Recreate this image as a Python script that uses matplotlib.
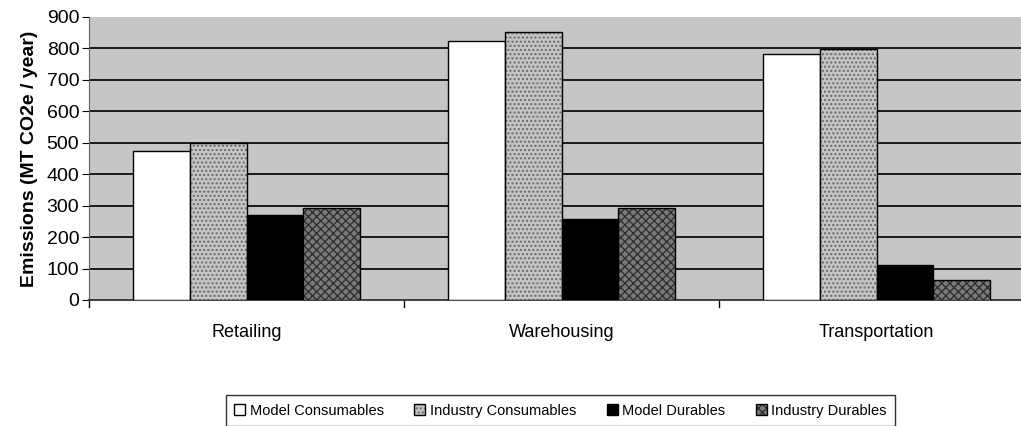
import matplotlib
matplotlib.use("Agg")
import matplotlib.pyplot as plt
import numpy as np

plt.rcParams['font.family'] = ['Liberation Sans', 'DejaVu Sans']
plt.rcParams['hatch.linewidth'] = 1.0

categories = ["Retailing", "Warehousing", "Transportation"]
series_names = ["Model Consumables", "Industry Consumables", "Model Durables", "Industry Durables"]
model_consumables = [474, 824, 782]
industry_consumables = [499, 852, 798]
model_durables = [270, 258, 111]
industry_durables = [293, 293, 64]
yticks = [0, 100, 200, 300, 400, 500, 600, 700, 800, 900]

series = [model_consumables, industry_consumables, model_durables, industry_durables]
styles = [
    dict(color="white", hatch=None, hatch_color="black"),
    dict(color="#c4c4c4", hatch="....", hatch_color="#6a6a6a"),
    dict(color="black", hatch=None, hatch_color="black"),
    dict(color="#7a7a7a", hatch="xxxx", hatch_color="#303030"),
]

fig = plt.figure(figsize=(10.21, 4.26), dpi=100)
ax = fig.add_axes([0.0872, 0.2958, 0.9256, 0.6643])
ax.set_facecolor("#c6c6c6")

x = np.arange(len(categories))
w = 0.18
for i, (vals, st) in enumerate(zip(series, styles)):
    pos = x + (i - 1.5) * w
    bars = ax.bar(pos, vals, width=w, color=st["color"], edgecolor="black",
                  linewidth=1.0, label=series_names[i], zorder=3)
    if st["hatch"]:
        for b in bars:
            b.set_hatch(st["hatch"])
            b._hatch_color = matplotlib.colors.to_rgba(st["hatch_color"])

ax.set_xlim(-0.5, 2.5)
ax.set_ylim(0, 900)
ax.set_yticks(yticks)
ax.set_yticklabels([str(v) for v in yticks], fontsize=14)
ax.yaxis.grid(True, color="#1a1a1a", linewidth=1.4, zorder=1)
ax.set_axisbelow(True)
ax.yaxis.get_gridlines()[-1].set_visible(False)

ax.set_xticks(x)
ax.set_xticklabels(categories, fontsize=13)
ax.tick_params(axis="x", length=0, pad=17)
for b in [-0.5, 0.5, 1.5]:
    ax.plot([b, b], [0, -0.025], transform=ax.get_xaxis_transform(),
            color="black", linewidth=1, clip_on=False)
ax.tick_params(axis="y", length=5, direction="out", pad=2)

for s in ["top", "right"]:
    ax.spines[s].set_visible(False)
ax.spines["left"].set_color("#606060")
ax.spines["bottom"].set_color("#404040")
ax.spines["bottom"].set_linewidth(1.4)

ax.set_ylabel("Emissions (MT CO2e / year)", fontsize=14, fontweight="bold", labelpad=6)

leg = fig.legend(loc="upper center", bbox_to_anchor=(0.549, 0.09), ncol=4,
                 fontsize=10.5, frameon=True, fancybox=False, edgecolor="black",
                 handlelength=0.75, handleheight=0.75, handletextpad=0.3,
                 columnspacing=2.1, borderpad=0.6)
leg.get_frame().set_linewidth(1.0)

fig.savefig("out.png", dpi=100)
